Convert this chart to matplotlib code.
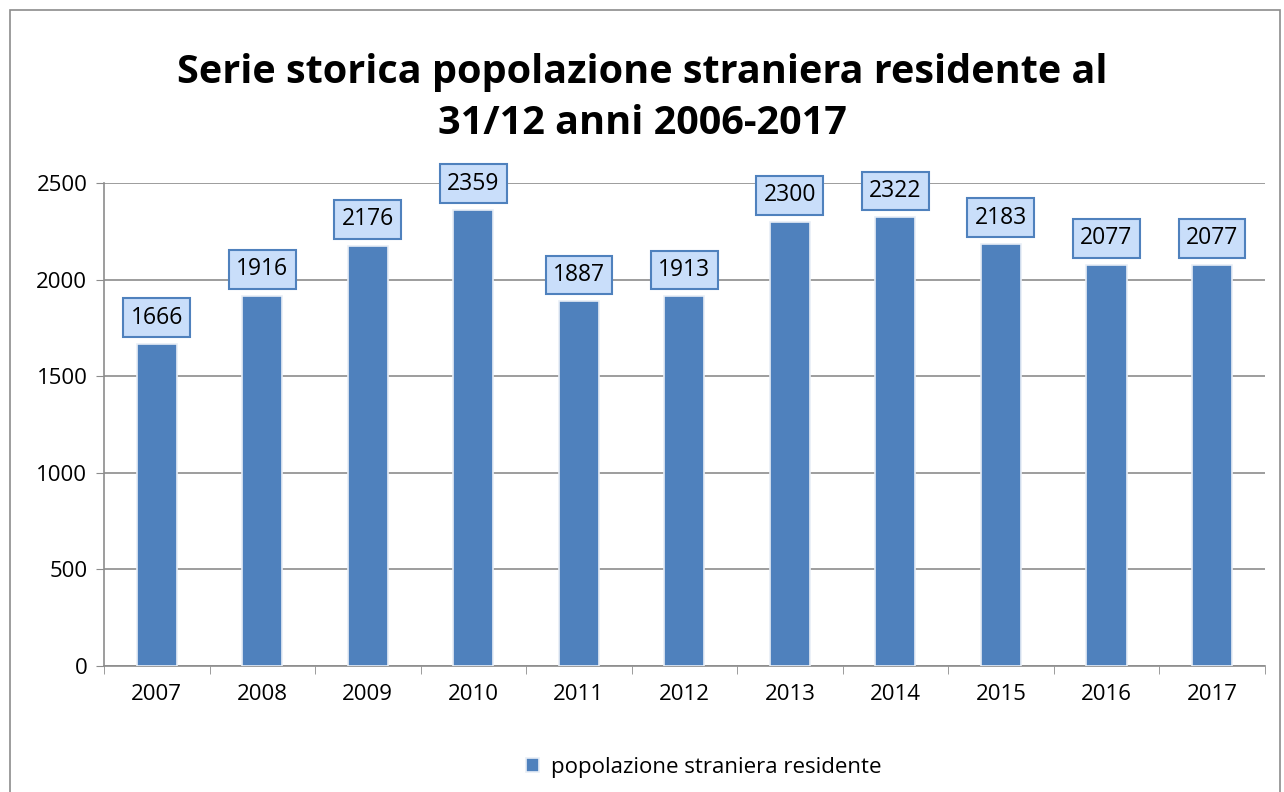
import matplotlib
matplotlib.use("Agg")
import matplotlib.pyplot as plt
from matplotlib.patches import Rectangle
import numpy as np

years = ["2007", "2008", "2009", "2010", "2011", "2012",
         "2013", "2014", "2015", "2016", "2017"]
values = [1666, 1916, 2176, 2359, 1887, 1913, 2300, 2322, 2183, 2077, 2077]
yticks = [0, 500, 1000, 1500, 2000, 2500]

plt.rcParams["font.family"] = ["Open Sans", "DejaVu Sans"]

BAR = "#4f81bd"
GRID = "#8c8c8c"

fig = plt.figure(figsize=(12.84, 7.92), dpi=100)
ax = fig.add_axes([0.081, 0.159, 0.904, 0.610])

x = np.arange(len(years))
bars = ax.bar(x, values, width=0.38, color=BAR, edgecolor="#e8eef6", lw=1.2, zorder=3,
              label="popolazione straniera residente")

for xi, v in zip(x, values):
    ax.annotate(str(v), (xi, v), xytext=(0, 19), textcoords="offset points",
                ha="center", va="center", fontsize=16.5, zorder=5,
                bbox=dict(boxstyle="square,pad=0.32", fc="#c9defa", ec="#4f81bd", lw=1.5))

ax.set_xlim(-0.5, len(years) - 0.5)
ax.set_ylim(0, 2500)
ax.set_yticks(yticks)
ax.set_xticks(x)
ax.set_xticklabels(years)
ax.set_xticks(np.arange(-0.5, len(years)), minor=True)
ax.tick_params(axis="x", which="major", length=0, labelsize=16, pad=13)
ax.tick_params(axis="x", which="minor", length=6, color=GRID, direction="out")
ax.tick_params(axis="y", length=6, color=GRID, labelsize=16, pad=6)
ax.yaxis.grid(True, color=GRID, lw=1.2, zorder=0)
for s in ["top", "right"]:
    ax.spines[s].set_visible(False)
for s in ["left", "bottom"]:
    ax.spines[s].set_color(GRID)
    ax.spines[s].set_linewidth(1.2)

fig.text(0.5, 0.876, "Serie storica popolazione straniera residente al\n31/12 anni 2006-2017",
         ha="center", va="center", fontsize=28.5, fontweight="bold", linespacing=1.4)

fig.legend(handles=[bars], loc="center", bbox_to_anchor=(0.548, 0.031), frameon=False,
           fontsize=16, handlelength=0.6, handleheight=0.6, handletextpad=0.5)

fig.patches.append(Rectangle((0.008, -0.01), 0.989, 0.998, transform=fig.transFigure,
                             fill=False, ec="#8c8c8c", lw=1.2))

fig.savefig("out.png", dpi=100)
